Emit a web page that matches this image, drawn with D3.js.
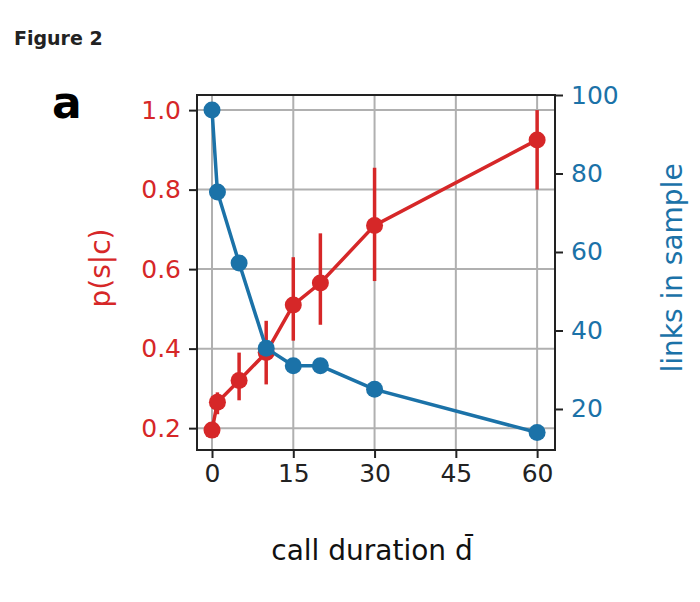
<!DOCTYPE html>
<html><head><meta charset="utf-8">
<script src="https://cdn.jsdelivr.net/npm/d3@7"></script>
<style>body{margin:0;background:#fff}text{font-family:"DejaVu Sans",sans-serif}</style>
</head><body><div id="chart"></div>
<script>
// chart data
const durations = [0, 1, 5, 10, 15, 20, 30, 60];
const pSC = [0.195, 0.265, 0.32, 0.39, 0.51, 0.565, 0.71, 0.925];
const pLow = [0.195, 0.235, 0.27, 0.31, 0.42, 0.46, 0.57, 0.80];
const pHigh = [0.195, 0.29, 0.39, 0.47, 0.63, 0.69, 0.855, 1.0];
const links = [96.2, 75.3, 57.2, 35.5, 31, 31, 25, 14];
const xTicks = [0, 15, 30, 45, 60];
const leftTicks = [0.2, 0.4, 0.6, 0.8, 1.0];
const rightTicks = [20, 40, 60, 80, 100];

const red = "#d62728", blue = "#1b72a8";
const L = 197, R = 555, T = 95, B = 450;

const svg = d3.select("#chart").append("svg").attr("width", 700).attr("height", 602);

const x = d3.scaleLinear().domain([-2.77, 63.3]).range([L, R]);
const yL = d3.scaleLinear().domain([0.145, 1.038]).range([B, T]);
const yR = d3.scaleLinear().domain([9.55, 100]).range([B, T]);

// grid
svg.selectAll(".gx").data(xTicks).enter().append("line")
    .attr("x1", x).attr("x2", x).attr("y1", T).attr("y2", B)
    .attr("stroke", "#b0b0b0").attr("stroke-width", 2);
svg.selectAll(".gy").data(leftTicks).enter().append("line")
    .attr("x1", L).attr("x2", R).attr("y1", yL).attr("y2", yL)
    .attr("stroke", "#b0b0b0").attr("stroke-width", 2);

svg.append("rect").attr("x", L).attr("y", T).attr("width", R - L).attr("height", B - T)
    .attr("fill", "none").attr("stroke", "#222").attr("stroke-width", 2);

// axes
const fs = "25px";
const ax = svg.append("g").attr("transform", `translate(0,${B})`)
    .call(d3.axisBottom(x).tickValues(xTicks).tickSize(8).tickPadding(6));
ax.select(".domain").remove();
ax.selectAll("text").style("font-size", fs).attr("fill", "#222");
ax.selectAll("line").attr("stroke", "#222").attr("stroke-width", 2);

const al = svg.append("g").attr("transform", `translate(${L},0)`)
    .call(d3.axisLeft(yL).tickValues(leftTicks).tickFormat(d3.format(".1f")).tickSize(8).tickPadding(8));
al.select(".domain").remove();
al.selectAll("text").style("font-size", fs).attr("fill", red);
al.selectAll("line").attr("stroke", "#222").attr("stroke-width", 2);

const ar = svg.append("g").attr("transform", `translate(${R},0)`)
    .call(d3.axisRight(yR).tickValues(rightTicks).tickSize(8).tickPadding(8));
ar.select(".domain").remove();
ar.selectAll("text").style("font-size", fs).attr("fill", blue);
ar.selectAll("line").attr("stroke", "#222").attr("stroke-width", 2);

// labels
svg.append("text").attr("x", 372).attr("y", 560).attr("text-anchor", "middle")
    .style("font-size", "28px").attr("fill", "#111").text("call duration d\u0304");
svg.append("text").attr("transform", "translate(110,268) rotate(-90)").attr("text-anchor", "middle")
    .style("font-size", "28px").attr("fill", red).text("p(s|c)");
svg.append("text").attr("transform", "translate(682,268) rotate(-90)").attr("text-anchor", "middle")
    .style("font-size", "28px").attr("fill", blue).text("links in sample");
svg.append("text").attr("x", 14).attr("y", 45).style("font-size", "19px").style("font-weight", "bold")
    .attr("fill", "#222").text("Figure 2");
svg.append("text").attr("x", 52).attr("y", 118).style("font-size", "44px").style("font-weight", "bold")
    .attr("fill", "#000").text("a");

const plot = svg.append("g");
// red series
plot.append("path").datum(durations)
    .attr("d", d3.line().x(d => x(d)).y((d, i) => yL(pSC[i])))
    .attr("fill", "none").attr("stroke", red).attr("stroke-width", 3.5);
plot.selectAll(".eb").data(durations).enter().append("line")
    .attr("x1", d => x(d)).attr("x2", d => x(d))
    .attr("y1", (d, i) => yL(pLow[i])).attr("y2", (d, i) => yL(pHigh[i]))
    .attr("stroke", red).attr("stroke-width", 3.5);
plot.selectAll(".rp").data(durations).enter().append("circle")
    .attr("cx", d => x(d)).attr("cy", (d, i) => yL(pSC[i])).attr("r", 8.5).attr("fill", red);

// blue series (on top)
plot.append("path").datum(durations)
    .attr("d", d3.line().x(d => x(d)).y((d, i) => yR(links[i])))
    .attr("fill", "none").attr("stroke", blue).attr("stroke-width", 3.5);
plot.selectAll(".bp").data(durations).enter().append("circle")
    .attr("cx", d => x(d)).attr("cy", (d, i) => yR(links[i])).attr("r", 8.5).attr("fill", blue);
</script></body></html>
